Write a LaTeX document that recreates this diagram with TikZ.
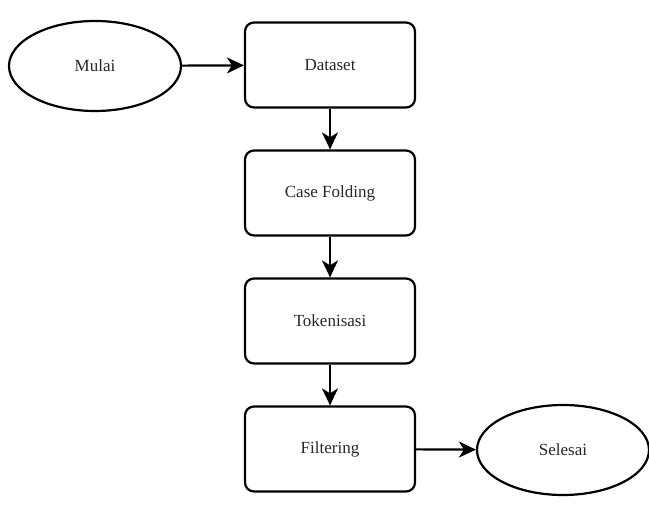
\documentclass[tikz,border=0pt]{standalone}
\usepackage{fontspec}
\setmainfont{Liberation Serif}
\usetikzlibrary{shapes.geometric,arrows.meta}
\begin{document}
\begin{tikzpicture}[x=1pt,y=-1pt,
    proses/.style={draw, line width=2.2pt, rounded corners=9pt, minimum width=170pt, minimum height=85pt, align=center, text=black!85, font=\fontsize{17}{20}\selectfont},
    terminal/.style={draw, ellipse, line width=2.2pt, minimum width=172pt, minimum height=90pt, text=black!85, font=\fontsize{17}{20}\selectfont},
    panah/.style={-{Stealth[length=17pt,width=16pt,inset=5pt]}, line width=2.2pt}]
        \useasboundingbox (0,0) rectangle (649,508);
        \node[terminal] (mulai) at (95,66) {Mulai};
        \node[proses] (dataset) at (330,65) {Dataset};
        \node[proses] (casefold) at (330,193) {Case Folding};
        \node[proses] (token) at (330,321) {Tokenisasi};
        \node[proses] (filter) at (330,449) {Filtering};
        \node[terminal] (selesai) at (563,450) {Selesai};
        \draw[panah] (mulai) -- (dataset);
        \draw[panah] (dataset) -- (casefold);
        \draw[panah] (casefold) -- (token);
        \draw[panah] (token) -- (filter);
        \draw[panah] (filter) -- (selesai);
    \end{tikzpicture}
\end{document}
